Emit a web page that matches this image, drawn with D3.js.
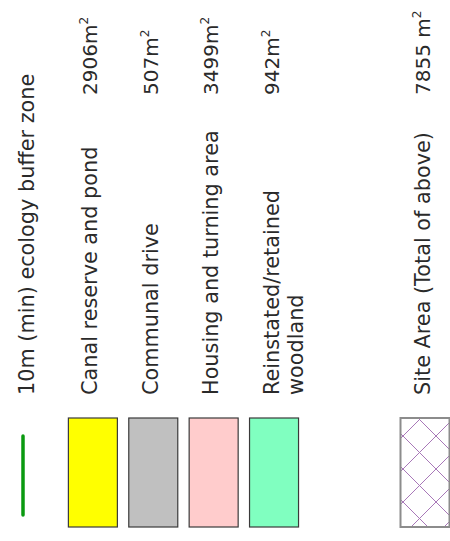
<!DOCTYPE html>
<html>
<head>
<meta charset="utf-8">
<script src="https://cdn.jsdelivr.net/npm/d3@7"></script>
<style>
  body { margin: 0; background: #fff; }
  text { font-family: "DejaVu Sans", sans-serif; fill: #2a2a2a; }
</style>
</head>
<body>
<div id="legend"></div>
<script>
// legend entries (row index, label lines, area in m2)
var rows = [0, 1, 2, 3, 4, 6.5]
var labels = [
  ["10m (min) ecology buffer zone"],
  ["Canal reserve and pond"],
  ["Communal drive"],
  ["Housing and turning area"],
  ["Reinstated/retained", "woodland"],
  ["Site Area (Total of above)"]
]
var areas = [null, 2906, 507, 3499, 942, 7855]
var units = ["", "m", "m", "m", "m", " m"]
var kinds = ["line", "fill", "fill", "fill", "fill", "hatch"]
var fills = [null, "#ffff00", "#c0c0c0", "#ffcccc", "#80ffc0", null]

var width = 450, height = 541

var svg = d3.select("#legend").append("svg")
    .attr("width", width)
    .attr("height", height)

// hatch for site area
var defs = svg.append("defs")
var pat = defs.append("pattern")
    .attr("id", "hatch")
    .attr("patternUnits", "userSpaceOnUse")
    .attr("width", 33)
    .attr("height", 33)
    .attr("patternTransform", "translate(399,436)")
pat.append("path")
    .attr("d", "M0,0L33,33M33,0L0,33")
    .attr("stroke", "#a878b8")
    .attr("stroke-width", 1)
    .attr("fill", "none")

// x position of each legend slot
var x = d3.scaleLinear()
    .domain([0, 6.5])
    .range([7.5, 400])

var swatchW = 49
var swatchTop = 418, swatchH = 109
var labelY = 395, valueY = 95

var data = rows.map(function(r, i) {
  return {row: r, label: labels[i], area: areas[i], unit: units[i], kind: kinds[i], fill: fills[i]}
})

var g = svg.selectAll("g.entry")
    .data(data)
    .enter()
    .append("g")
    .attr("class", "entry")
    .attr("transform", function(d) { return "translate(" + x(d.row) + ",0)" })

g.each(function(d) {
  var el = d3.select(this)
  if (d.kind == "line") {
    el.append("line")
      .attr("x1", 15.5).attr("x2", 15.5)
      .attr("y1", 436).attr("y2", 515)
      .attr("stroke", "#0a9a10")
      .attr("stroke-width", 3.5)
      .attr("stroke-linecap", "round")
  } else if (d.kind == "fill") {
    el.append("rect")
      .attr("x", 0.5).attr("y", swatchTop)
      .attr("width", swatchW).attr("height", swatchH)
      .attr("fill", d.fill)
      .attr("stroke", "#3a3a3a")
      .attr("stroke-width", 1.2)
  } else {
    el.append("rect")
      .attr("x", 0.5).attr("y", swatchTop)
      .attr("width", swatchW).attr("height", swatchH)
      .attr("fill", "url(#hatch)")
      .attr("stroke", "#8c8c8c")
      .attr("stroke-width", 2)
  }

  // label, rotated to read bottom-up
  var t = el.append("text")
      .attr("transform", "translate(" + (d.row == 0 ? 26.5 : 29.5) + "," + labelY + ") rotate(-90)")
      .style("font-size", "20.8px")
  d.label.forEach(function(line, k) {
    t.append("tspan")
      .attr("x", 0)
      .attr("dy", k == 0 ? 0 : 24)
      .text(line)
  })

  if (d.area != null) {
    var v = el.append("text")
        .attr("transform", "translate(29.5," + valueY + ") rotate(-90)")
        .style("font-size", "20px")
    v.append("tspan").text(d.area + d.unit)
    v.append("tspan")
      .attr("dy", -9)
      .style("font-size", "12px")
      .text("2")
  }
})
</script>
</body>
</html>
